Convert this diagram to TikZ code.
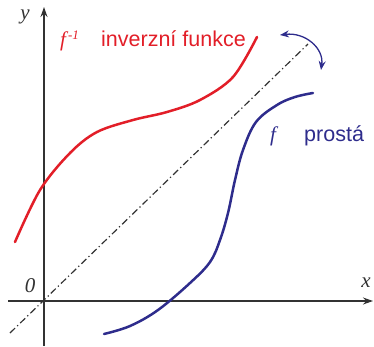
\documentclass[tikz,border=0pt]{standalone}
\usepackage{fontspec}
\setmainfont{Liberation Serif}
\newfontfamily\arialf{Liberation Sans}
\usetikzlibrary{arrows.meta}
\definecolor{myred}{RGB}{226,30,40}
\definecolor{myblue}{RGB}{46,44,140}
\definecolor{axisgray}{RGB}{50,50,50}
\tikzset{
  axis/.style={axisgray,line width=1.3pt,-{Stealth[length=10pt,width=7pt]}},
  curve/.style={line width=2.5pt},
  lbl/.style={inner sep=0pt,font=\fontsize{21}{24}\selectfont\itshape,text=axisgray},
  sans/.style={inner sep=0pt,anchor=base west,font=\fontsize{21.5}{24}\selectfont\arialf},
}
\begin{document}
\begin{tikzpicture}[x=1pt,y=-1pt]
\useasboundingbox (0,0) rectangle (374,346);
% axes
\coordinate (xs) at (8,301);
\coordinate (xe) at (373,301);
\coordinate (ys) at (44,346);
\coordinate (ye) at (44,7);
\draw[axis] (xs) -- (xe);
\draw[axis] (ys) -- (ye);
% diagonal
\coordinate (ds) at (10,333);
\coordinate (de) at (308,44);
\draw[axisgray,line width=1.2pt,dash pattern=on 7pt off 3pt on 1.2pt off 3pt] (ds) -- (de);
% red curve
\draw[curve,myred,line cap=round] plot[smooth,tension=0.55] coordinates {(15,242) (40,190) (70,153) (97,132) (133,120) (167,112) (200,100) (233,77) (257,37)};
% blue curve
\draw[curve,myblue,line cap=round] plot[smooth,tension=0.6] coordinates {(104,334) (130,326) (158,310) (190,283) (210,262) (220,240) (228,213) (235,180) (243,150) (256,122) (277,105) (295,97) (313,93)};
% swap arrow
\coordinate (a1) at (280,35);
\coordinate (a2) at (321,70);
\draw[myblue,line width=1.3pt,{Stealth[length=9pt,width=7pt]}-{Stealth[length=9pt,width=7pt]}] (a1) .. controls (305,32) and (324,48) .. (a2);
% labels
\node[lbl] (ly) at (25,17) {y};
\node[lbl] (lx) at (366,283) {x};
\node[lbl] (l0) at (30,286) {0};
\node[lbl,text=myred,anchor=base west] (finv) at (60,46) {f\hspace{2pt}\raisebox{7pt}{\fontsize{13}{14}\selectfont -1}};
\node[sans,text=myred] (tinv) at (101,46) {inverzní funkce};
\node[lbl,text=myblue,anchor=base west] (ff) at (270,141) {f};
\node[sans,text=myblue] (tpr) at (304,141) {prostá};
\end{tikzpicture}
\end{document}
